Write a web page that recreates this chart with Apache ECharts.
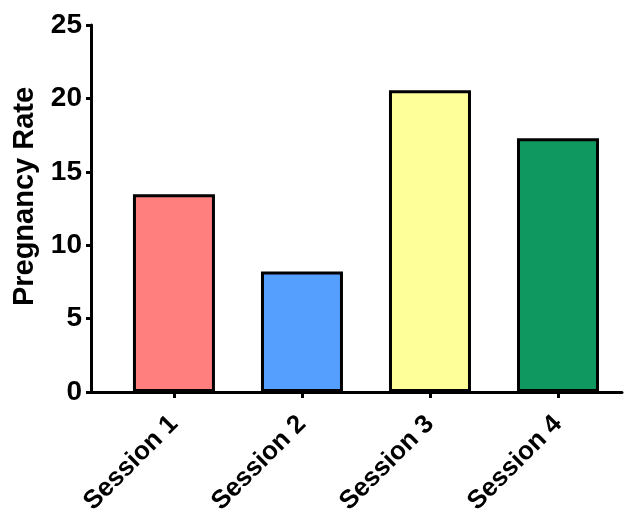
<!DOCTYPE html>
<html>
<head>
<meta charset="utf-8">
<script src="https://cdn.jsdelivr.net/npm/echarts@6/dist/echarts.min.js"></script>
<style>
html,body{margin:0;padding:0;background:#fff;}
#c{width:636px;height:512px;}
</style>
</head>
<body>
<div id="c"></div>
<script>
var categories = ['Session 1', 'Session 2', 'Session 3', 'Session 4'];
var values = [13.47, 8.2, 20.55, 17.28];
var colors = ['#ff7f7f', '#559fff', '#ffff99', '#0f9960'];
var yTicks = [0, 5, 10, 15, 20, 25];
var yTitle = 'Pregnancy Rate';

var positions = categories.map(function (c, i) { return i; });
var chart = echarts.init(document.getElementById('c'));
var font = 'Liberation Sans, Arial, Helvetica, sans-serif';
chart.setOption({
  animation: false,
  backgroundColor: '#fff',
  grid: { left: 91, right: 14, top: 25, bottom: 120, containLabel: false, outerBoundsMode: 'none' },
  xAxis: {
    type: 'value',
    min: -0.648,
    max: 3.5,
    splitLine: { show: false },
    axisLine: { show: true, onZero: false, lineStyle: { color: '#000', width: 3 } },
    axisTick: { show: true, customValues: positions, length: 6, lineStyle: { color: '#000', width: 3 } },
    axisLabel: {
      customValues: positions,
      rotate: 45,
      margin: 28,
      color: '#000',
      fontSize: 26,
      fontWeight: 'bold',
      fontFamily: font,
      formatter: function (v) { return categories[Math.round(v)] || ''; }
    }
  },
  yAxis: {
    type: 'value',
    min: yTicks[0],
    max: yTicks[yTicks.length - 1],
    interval: 5,
    name: yTitle,
    nameLocation: 'middle',
    nameGap: 52,
    nameTextStyle: { color: '#000', fontSize: 29, fontWeight: 'bold', fontFamily: font, padding: [0, 0, 0, 24] },
    splitLine: { show: false },
    axisLine: { show: true, onZero: false, lineStyle: { color: '#000', width: 3 } },
    axisTick: { show: true, length: 5, lineStyle: { color: '#000', width: 3 } },
    axisLabel: { margin: 9, color: '#000', fontSize: 28, fontWeight: 'bold', fontFamily: font }
  },
  series: [{
    type: 'bar',
    barWidth: 82,
    data: values.map(function (v, i) {
      return { value: [i, v], itemStyle: { color: colors[i], borderColor: '#000', borderWidth: 3 } };
    })
  }]
});
</script>
</body>
</html>
